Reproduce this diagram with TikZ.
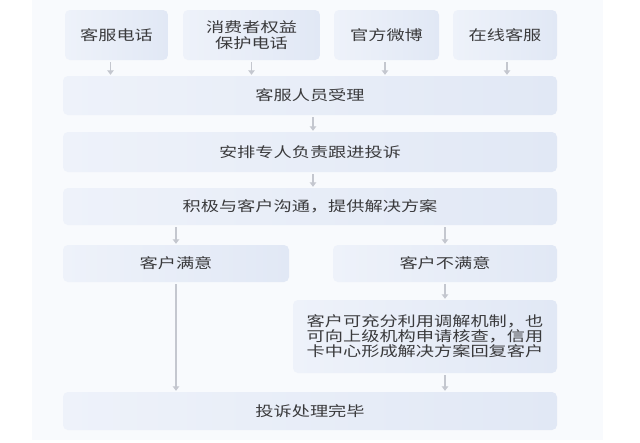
\documentclass[tikz,border=0pt]{standalone}
\usepackage{fontspec}
\newfontfamily\cjk[FakeStretch=1.3]{Noto Sans CJK SC}
\usetikzlibrary{arrows.meta,calc}
\definecolor{txt}{HTML}{3A3A3C}
\definecolor{boxl}{HTML}{EEF2FA}
\definecolor{boxr}{HTML}{E1E8F5}
\definecolor{arrc}{HTML}{C4C7CF}
\definecolor{panel}{HTML}{F8FAFD}
\tikzset{
  box/.style={rectangle, rounded corners=5pt, left color=boxl, right color=boxr,
    draw=none, inner sep=0pt, text=txt, align=center,
    font=\cjk\fontsize{14}{15.5}\selectfont},
  arr/.style={draw=arrc, line width=1.2pt, -{Triangle[length=4.5pt,width=6.5pt]},
    shorten <=2pt, shorten >=1pt}
}
\begin{document}
\begin{tikzpicture}[x=1pt,y=1pt]
\useasboundingbox (0,0) rectangle (640,-442);
\fill[white] (0,0) rectangle (640,-442);
\fill[panel] (32,0) rectangle (603,-440);
% top row
\node[box, minimum width=103pt, minimum height=50pt] (b1) at (116.5,-35) {客服电话};
\node[box, minimum width=137pt, minimum height=50pt] (b2) at (251.5,-35) {消费者权益\\保护电话};
\node[box, minimum width=105pt, minimum height=50pt] (b3) at (386.5,-35) {官方微博};
\node[box, minimum width=104pt, minimum height=50pt] (b4) at (505,-35) {在线客服};
% rows
\node[box, minimum width=494pt, minimum height=39pt] (r2) at (310,-95.5) {客服人员受理};
\node[box, minimum width=494pt, minimum height=40pt] (r3) at (310,-152) {安排专人负责跟进投诉};
\node[box, minimum width=494pt, minimum height=37pt] (r4) at (310,-206.5) {积极与客户沟通，提供解决方案};
\node[box, minimum width=226pt, minimum height=37pt] (sat) at (176,-263.5) {客户满意};
\node[box, minimum width=224pt, minimum height=37pt] (unsat) at (445,-263.5) {客户不满意};
\node[box, minimum width=264pt, minimum height=73pt, align=left,
      font=\cjk\fontsize{14}{15}\selectfont] (big) at (425,-336.5)
  {客户可充分利用调解机制，也\\可向上级机构申请核查，信用\\卡中心形成解决方案回复客户};
\node[box, minimum width=494pt, minimum height=38pt] (fin) at (310,-411) {投诉处理完毕};
% arrows
\draw[arr] ([xshift=-6pt]b1.south) -- ([xshift=-6pt]b1.south |- r2.north);
\draw[arr] (b2.south) -- (b2.south |- r2.north);
\draw[arr] ([xshift=-1.5pt]b3.south) -- ([xshift=-1.5pt]b3.south |- r2.north);
\draw[arr] ([xshift=2pt]b4.south) -- ([xshift=2pt]b4.south |- r2.north);
\draw[arr] ([xshift=3pt]r2.south) -- ([xshift=3pt]r2.south |- r3.north);
\draw[arr] ([xshift=3pt]r3.south) -- ([xshift=3pt]r3.south |- r4.north);
\draw[arr] (sat.north |- r4.south) -- (sat.north);
\draw[arr] (unsat.north |- r4.south) -- (unsat.north);
\draw[arr] (unsat.south) -- (unsat.south |- big.north);
\draw[arr] (unsat.south |- big.south) -- (unsat.south |- fin.north);
\draw[arr] (sat.south) -- (sat.south |- fin.north);
\end{tikzpicture}
\end{document}
